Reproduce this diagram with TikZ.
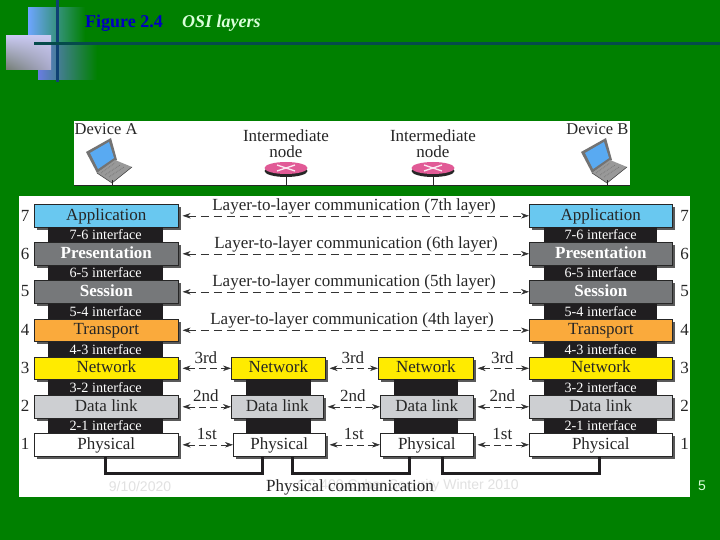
\documentclass[tikz,border=0pt]{standalone}
\usepackage{fontspec}
\setmainfont{Liberation Serif}
\newfontfamily\arialf{Liberation Sans}
\usetikzlibrary{arrows.meta,calc,shadings}
\definecolor{bggreen}{RGB}{0,128,0}
\definecolor{appblue}{RGB}{105,200,240}
\definecolor{sesgray}{RGB}{118,120,122}
\definecolor{traorange}{RGB}{250,170,60}
\definecolor{netyellow}{RGB}{255,235,0}
\definecolor{dlgray}{RGB}{205,207,210}
\definecolor{ifblack}{RGB}{32,30,32}
\definecolor{pinkrt}{RGB}{225,90,150}
\definecolor{footgray}{RGB}{225,225,225}
\definecolor{logoa}{RGB}{110,165,255}
\definecolor{logob}{RGB}{105,125,225}
\definecolor{logoc}{RGB}{200,200,240}
\definecolor{logod}{RGB}{115,125,115}
\definecolor{logoline}{RGB}{15,65,115}
\definecolor{logoh}{RGB}{5,75,75}
\newcommand{\bigf}{\fontsize{17}{18}\selectfont}
\tikzset{
 layerbox/.style={draw=black!85,line width=.6pt,inner sep=0pt,text=black!85,font=\bigf,text height=12pt,text depth=3pt},
 ifbox/.style={fill=ifblack,draw=none,text=white,inner sep=0pt,font=\fontsize{14.2}{15}\selectfont,text height=11pt,text depth=1.4pt},
 lbl/.style={font=\bigf,text=black!85,inner sep=0pt},
 peer/.style={dash pattern=on 8pt off 5pt,line width=.55pt,black!80,{Stealth[length=8pt,width=5.5pt]}-{Stealth[length=8pt,width=5.5pt]}},
 link/.style={line width=3pt,ifblack,line cap=butt,line join=miter},
 foot/.style={font=\arialf\fontsize{14}{15}\selectfont,text=footgray,inner sep=0pt},
}
\newcommand{\layerrect}[7]{% name, x1, y1, x2, y2, fill, text
  \fill[black!65] (#2+3,#3+3) rectangle (#4+3,#5+3);
  \node[layerbox,fill=#6,minimum width=#4pt-#2pt,minimum height=#5pt-#3pt,anchor=north west] (#1) at (#2,#3) {#7};
}
\newcommand{\laptop}[1]{%
\begin{scope}[shift={(#1,0)}]
 \fill[black!55] (86,152) -- (111,138) -- (117,160) -- (97,173) -- cycle;
 \fill[appblue!85!blue] (90,153) -- (109,142) -- (114,158) -- (98,169) -- cycle;
 \fill[black!40] (97,173) -- (115,160) -- (132,167) -- (112,183) -- cycle;
 \draw[black!55,line width=.7pt,densely dotted] (101,173) -- (115,163) (105,175) -- (120,165) (109,177) -- (124,167);
 \draw[black!70,line width=.6pt] (97,173) -- (112,183) -- (132,167);
\end{scope}}
\newcommand{\router}[1]{%
 \fill[black!85] (#1,171) ellipse[x radius=21.5,y radius=6];
 \fill[pinkrt] (#1,168) ellipse[x radius=21.5,y radius=6];
 \draw[white!85!pinkrt,line width=1.4pt] (#1-9,165) -- (#1+9,171) (#1-9,171) -- (#1+9,165);
}
\begin{document}
\begin{tikzpicture}[x=1pt,y=-1pt]
\useasboundingbox (0,0) rectangle (720,540);
\fill[bggreen] (0,0) rectangle (720,540);
% logo
\fill[left color=logoa,middle color=logoa,right color=bggreen] (28,8) rectangle (85,60);
\fill[left color=logob,middle color=logob,right color=bggreen] (38,44) rectangle (97,80);
\shade[lower left=logod,upper right=logoc,upper left=logoc,lower right=logoc!85!black] (6,36) rectangle (51,70);
\fill[logoline] (56,0) rectangle (59,82);
\fill[logoh] (34,42) rectangle (720,45);
\node[anchor=base west,inner sep=0pt,font=\fontsize{18}{19}\selectfont\bfseries,text=blue!75!black] (fig) at (85,28) {Figure 2.4};
\node[anchor=base west,inner sep=0pt,font=\fontsize{18}{19}\selectfont\bfseries\itshape,text=green!15!white] (ttl) at (182,28) {OSI layers};
% top panel
\fill[white] (74,121) rectangle (630,186);
\draw[black!85,line width=.9pt] (74,185.5) -- (630,185.5);
\node[lbl,anchor=base west,font=\fontsize{16.5}{18}\selectfont] (da) at (74.5,135) {Device A};
\node[lbl,anchor=base east,font=\fontsize{16.5}{18}\selectfont] (db) at (628.5,135) {Device B};
\node[lbl,align=center] (i1) at (286,143.5) {Intermediate\\[-1.5pt]node};
\node[lbl,align=center] (i2) at (433,143.5) {Intermediate\\[-1.5pt]node};
\laptop{0}
\laptop{495}
\draw[black!85,line width=1pt] (112,180)--(112,185) (286,175)--(286,185) (433,175)--(433,185) (607,180)--(607,185);
\router{286}
\router{433}
% main panel
\fill[white] (19,196) rectangle (690,497);
% left stack
\layerrect{la}{34}{204}{178}{227}{appblue}{Application}
\layerrect{lp}{34}{242}{178}{265}{sesgray}{\bfseries\color{white}Presentation}
\layerrect{ls}{34}{280}{178}{303}{sesgray}{\bfseries\color{white}Session}
\layerrect{lt}{34}{319}{178}{341}{traorange}{Transport}
\layerrect{ln}{34}{357}{178}{379}{netyellow}{Network}
\layerrect{ld}{34}{395}{178}{418}{dlgray}{Data link}
\layerrect{lh}{34}{433}{178}{456}{white}{Physical}
% right stack
\layerrect{ra7}{529}{204}{672}{227}{appblue}{Application}
\layerrect{rp}{529}{242}{672}{265}{sesgray}{\bfseries\color{white}Presentation}
\layerrect{rs}{529}{280}{672}{303}{sesgray}{\bfseries\color{white}Session}
\layerrect{rt}{529}{319}{672}{341}{traorange}{Transport}
\layerrect{rn}{529}{357}{672}{379}{netyellow}{Network}
\layerrect{rd}{529}{395}{672}{418}{dlgray}{Data link}
\layerrect{rh}{529}{433}{672}{456}{white}{Physical}
% middle 1
\layerrect{mn}{231}{357}{325}{379}{netyellow}{Network}
\layerrect{md}{231}{395}{323}{418}{dlgray}{Data link}
\layerrect{mh}{233}{433}{325}{456}{white}{Physical}
% middle 2
\layerrect{nn}{378}{357}{473}{379}{netyellow}{Network}
\layerrect{nd}{380}{395}{473}{418}{dlgray}{Data link}
\layerrect{nh}{380}{433}{473}{456}{white}{Physical}
% interfaces, over the shadows of the layers
\foreach \ya/\yb/\t in {227/242/7-6,265/280/6-5,303/319/5-4,341/357/4-3,379/395/3-2,418/433/2-1}{
 \node[ifbox,minimum width=115pt,minimum height=\yb pt-\ya pt-.6pt,anchor=north west] at (48,\ya+.3) {\t\ interface};
 \node[ifbox,minimum width=113pt,minimum height=\yb pt-\ya pt-.6pt,anchor=north west] at (544,\ya+.3) {\t\ interface};
}
\fill[ifblack] (246,379.3) rectangle (311,394.7);
\fill[ifblack] (246,418.3) rectangle (311,432.7);
\fill[ifblack] (394,379.3) rectangle (458,394.7);
\fill[ifblack] (394,418.3) rectangle (458,432.7);
% layer numbers
\foreach \y/\n in {215/7,253/6,291/5,329/4,367/3,405/2,443/1}{
 \node[lbl] at (25,\y+.5) {\n};
 \node[lbl] at (684.5,\y+.5) {\n};
}
% peer arrows
\foreach \a/\b in {la/ra7,lp/rp,ls/rs,lt/rt}{
 \draw[peer,shorten <=4pt] (\a.east) -- (\b.west);
}
\node[lbl] at (354,206) {Layer-to-layer communication (7th layer)};
\node[lbl] at (356,244) {Layer-to-layer communication (6th layer)};
\node[lbl] at (354,282) {Layer-to-layer communication (5th layer)};
\node[lbl] at (352,320) {Layer-to-layer communication (4th layer)};
\foreach \a/\b/\t/\yy in {ln/mn/3rd/358,mn/nn/3rd/358,nn/rn/3rd/358,ld/md/2nd/396,md/nd/2nd/396,nd/rd/2nd/396,lh/mh/1st/434,mh/nh/1st/434,nh/rh/1st/434}{
 \draw[peer,dash pattern=on 7pt off 4pt,shorten <=4pt] (\a.east) -- (\b.west);
 \path (\a.east) -- (\b.west) coordinate[pos=.52] (m);
 \node[lbl] at (m|-0,\yy) {\t};
}
% physical links
\draw[link] ($(lh.south)+(-1,0)$) -- ++(0,17) -| ($(mh.south)+(-17,0)$);
\draw[link] ($(mh.south)+(13,0)$) -- ++(0,17) -| ($(nh.south)+(-17.5,0)$);
\draw[link] ($(nh.south)+(15.5,0)$) -- ++(0,17) -| ($(rh.south)+(-1.5,0)$);
% footer
\node[foot] (fd) at (140,486) {9/10/2020};
\node[foot,anchor=east] (ft) at (519,486) {CS 400 Cyber Security Winter 2010};
\node[lbl] (pc) at (350,487) {Physical communication};
\node[foot,text=white!85!green] (pg) at (702,486) {5};
\end{tikzpicture}
\end{document}
